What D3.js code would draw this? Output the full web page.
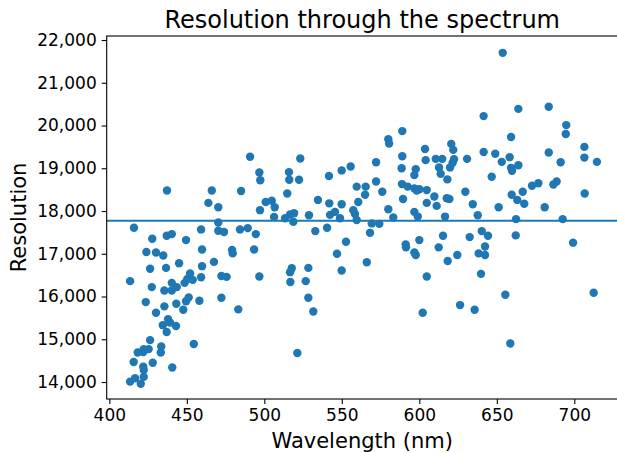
<!DOCTYPE html>
<html>
<head>
<meta charset="utf-8">
<script src="https://cdn.jsdelivr.net/npm/d3@7"></script>
<style>
  html, body { margin: 0; padding: 0; background: #fff; }
  svg { display: block; }
  text { font-family: "DejaVu Sans", sans-serif; fill: #000; }
</style>
</head>
<body>
<svg id="chart" width="617" height="453"></svg>
<script>
const wavelength = [
  490.8,496.8,497.4,437.2,466.1,485.0,463.9,470.3,500.9,504.8,506.7,497.2,506.3,470.3,415.9,470.3,474.0,459.2,484.3,489.3,
  494.5,427.7,437.0,440.3,449.5,423.9,430.1,434.8,459.8,479.2,479.6,493.4,445.0,467.5,426.3,436.6,459.8,413.4,427.4,435.5,
  440.3,443.5,440.3,448.6,452.1,450.3,453.8,459.2,472.3,475.7,496.8,423.5,435.5,443.2,449.5,451.2,458.1,472.3,430.1,447.7,
  483.2,437.9,434.5,439.2,443.0,437.0,426.3,454.5,433.5,433.2,418.3,422.2,425.4,421.9,415.7,428.0,421.9,422.2,440.6,422.2,
  416.6,413.4,420.3,
  589.0,580.0,580.5,523.2,603.7,589.0,604.1,610.6,614.8,572.1,555.7,549.9,541.7,515.9,516.1,522.4,588.6,597.7,596.8,612.7,
  613.8,572.1,588.8,592.5,596.8,598.3,600.0,604.8,559.6,565.4,565.0,576.1,609.7,617.7,514.8,534.6,541.9,549.9,560.6,589.5,
  604.8,611.2,580.0,596.8,557.4,558.5,559.6,542.4,545.6,528.8,516.6,519.2,513.4,518.7,548.8,583.2,616.6,569.3,574.2,568.2,
  599.0,532.9,540.5,552.7,546.9,549.9,566.1,591.2,591.4,600.0,596.8,597.7,615.3,612.5,618.3,604.8,517.7,516.6,528.4,516.8,
  526.7,528.4,531.6,602.2,521.3,
  653.8,641.5,663.9,683.5,694.8,694.5,659.2,620.6,621.9,706.5,706.5,714.6,641.5,649.0,658.3,653.2,683.5,691.2,622.4,621.5,
  619.8,630.8,618.1,646.7,659.2,659.8,663.9,672.7,676.8,686.5,688.6,629.7,619.4,659.6,663.2,666.7,667.7,634.5,651.2,680.9,
  706.7,637.7,662.4,692.5,632.5,640.3,644.3,662.2,699.2,642.4,638.3,642.4,624.5,639.8,655.5,712.5,626.3,635.7,658.7
];
const resolution = [
  19270,18900,18720,18480,18480,18470,18190,18090,18210,18240,18090,18020,17860,17730,17610,17540,17510,17570,17570,17600,
  17460,17350,17420,17460,17320,17040,17030,16960,17100,17090,17010,17100,16780,16810,16650,16670,16710,16360,16220,16140,
  16320,16220,16140,16320,16540,16410,16390,16450,16480,16460,16470,15870,15770,15830,15890,15980,15900,15970,15620,15690,
  15700,15470,15330,15390,15310,15170,14980,14890,14830,14690,14690,14770,14770,14700,14470,14450,14360,14280,14340,14120,
  14090,14010,13960,
  19870,19680,19580,19230,19450,19280,19190,19220,19220,19140,19040,18950,18820,18910,18730,18730,19000,18980,18840,19020,
  18870,18690,18630,18570,18530,18480,18510,18490,18570,18570,18380,18450,18340,18300,18410,18260,18180,18160,18210,18280,
  18190,18120,18040,17980,18020,17930,17790,17910,17980,17900,17920,17950,17830,17750,17830,17850,17870,17710,17700,17490,
  17870,17530,17610,17280,17000,16610,16800,17220,17150,17320,17030,16970,17420,17150,16830,16470,16660,16570,16670,16340,
  16360,15970,15650,15620,14680,
  21700,20220,20390,20440,20010,19800,19730,19570,19430,19500,19250,19150,19380,19340,19260,19150,19370,19140,19210,19130,
  19020,19220,18740,18800,19010,18940,19070,18590,18650,18620,18690,18450,18280,18380,18260,18450,18170,18160,18090,18090,
  18410,17900,17810,17810,17390,17530,17420,17430,17260,17170,17010,16970,16970,16530,16040,16090,15800,15690,14900
];
const referenceLine = 17775;
const xTicks = [400, 450, 500, 550, 600, 650, 700];
const yTicks = [14000, 15000, 16000, 17000, 18000, 19000, 20000, 21000, 22000];
const xDomain = [398.3, 728.0];
const yDomain = [13603, 22094];
const titleText = "Resolution through the spectrum";
const xLabelText = "Wavelength (nm)";
const yLabelText = "Resolution";

const color = "#1f77b4";
const plot = { left: 106.7, top: 36, right: 617.7, bottom: 399 };

const svg = d3.select("#chart");
const x = d3.scaleLinear().domain(xDomain).range([plot.left, plot.right]);
const y = d3.scaleLinear().domain(yDomain).range([plot.bottom, plot.top]);

const points = wavelength.map((w, i) => ({ w, r: resolution[i] }));

svg.append("defs").append("clipPath").attr("id", "clip")
  .append("rect").attr("x", plot.left).attr("y", plot.top)
  .attr("width", plot.right - plot.left).attr("height", plot.bottom - plot.top);

const g = svg.append("g").attr("clip-path", "url(#clip)");
g.selectAll("circle").data(points).enter().append("circle")
  .attr("cx", d => x(d.w)).attr("cy", d => y(d.r)).attr("r", 4.2)
  .attr("fill", color);

g.append("line")
  .attr("x1", plot.left).attr("x2", plot.right)
  .attr("y1", y(referenceLine)).attr("y2", y(referenceLine))
  .attr("stroke", color).attr("stroke-width", 2);

const xAxis = d3.axisBottom(x).tickValues(xTicks).tickFormat(d3.format("d"))
  .tickSize(5).tickPadding(5);
const yAxis = d3.axisLeft(y).tickValues(yTicks).tickFormat(d3.format(","))
  .tickSize(5).tickPadding(5);

const gx = svg.append("g").attr("transform", `translate(0,${plot.bottom})`).call(xAxis);
const gy = svg.append("g").attr("transform", `translate(${plot.left},0)`).call(yAxis);
[gx, gy].forEach(a => {
  a.select(".domain").remove();
  a.selectAll(".tick line").attr("stroke", "#000").attr("stroke-width", 1.1);
  a.selectAll(".tick text").attr("font-family", "DejaVu Sans").attr("font-size", 17).attr("fill", "#000");
});

svg.append("rect")
  .attr("x", plot.left).attr("y", plot.top)
  .attr("width", plot.right - plot.left).attr("height", plot.bottom - plot.top)
  .attr("fill", "none").attr("stroke", "#000").attr("stroke-width", 1.1);

svg.append("text").attr("x", (plot.left + plot.right) / 2).attr("y", 28)
  .attr("text-anchor", "middle").attr("font-size", 24).text(titleText);
svg.append("text").attr("x", (plot.left + plot.right) / 2).attr("y", 448)
  .attr("text-anchor", "middle").attr("font-size", 21).text(xLabelText);
svg.append("text").attr("transform", `translate(26,${(plot.top + plot.bottom) / 2}) rotate(-90)`)
  .attr("text-anchor", "middle").attr("font-size", 21).text(yLabelText);
</script>
</body>
</html>
